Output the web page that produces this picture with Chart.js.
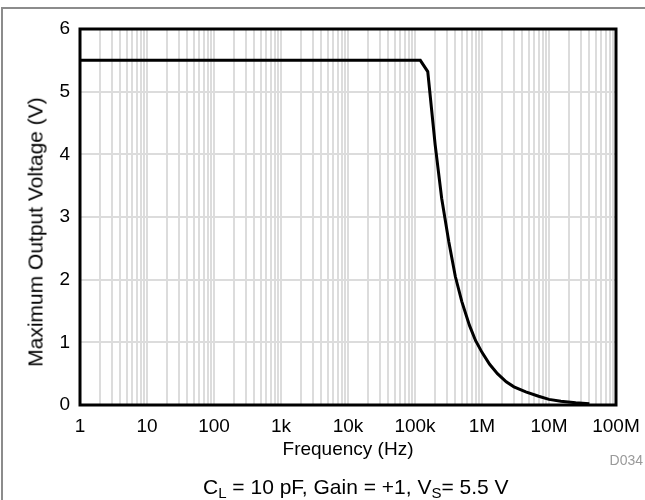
<!DOCTYPE html>
<html>
<head>
<meta charset="utf-8">
<script src="https://cdn.jsdelivr.net/npm/chart.js@4/dist/chart.umd.min.js"></script>
<style>
  html, body { margin: 0; padding: 0; background: #fff; }
  #page { position: relative; width: 645px; height: 500px; overflow: hidden; font-family: "Liberation Sans", Arial, sans-serif; }
  #frame { position: absolute; left: 1px; top: 7px; right: 0; bottom: 0; border-top: 2px solid #8c8c8c; border-left: 2px solid #8c8c8c; }
  #wrap { position: absolute; left: 0; top: 0; width: 645px; height: 500px; }
  #ytitle { position: absolute; left: 35px; top: 232px; transform: translate(-50%, -50%) rotate(-90deg); font-size: 21px; line-height: 21px; color: #000; white-space: nowrap; }
  #note { position: absolute; left: 203px; top: 476px; font-size: 21px; line-height: 21px; color: #000; white-space: nowrap; }
  #note sub { font-size: 15px; vertical-align: -4px; line-height: 0; }
  #code { position: absolute; right: 2px; top: 453px; font-size: 14px; line-height: 14px; color: #9a9a9a; }
</style>
</head>
<body>
<div id="page">
  <div id="frame"></div>
  <div id="wrap"><canvas id="chart"></canvas></div>
  <div id="ytitle">Maximum Output Voltage (V)</div>
  <div id="note">C<sub>L</sub> = 10 pF, Gain = +1, V<sub>S</sub>= 5.5 V</div>
  <div id="code">D034</div>
</div>
<script>
// ---------- DATA ----------
const freqHz = [1, 120000, 155000, 200000, 250000, 320000, 400000, 500000, 650000, 800000,
                1000000, 1300000, 1700000, 2300000, 3000000, 4500000, 7000000, 10000000,
                15000000, 25000000, 40000000];
const voltage = [5.5, 5.5, 5.32, 4.15, 3.3, 2.6, 2.05, 1.65, 1.27, 1.03,
                 0.84, 0.65, 0.5, 0.37, 0.29, 0.21, 0.14, 0.09,
                 0.06, 0.035, 0.02];
const decadeValues = [1, 10, 100, 1e3, 1e4, 1e5, 1e6, 1e7, 1e8];
const decadeLabels = ['1', '10', '100', '1k', '10k', '100k', '1M', '10M', '100M'];
const yTicks = [0, 1, 2, 3, 4, 5, 6];

const FONT = '"Liberation Sans", Arial, sans-serif';

// box around the plot area
const plotBorder = {
    id: 'plotBorder',
    afterDraw(chart) {
        const { ctx, chartArea: a } = chart;
        ctx.save();
        ctx.strokeStyle = '#000';
        ctx.lineWidth = 3;
        ctx.strokeRect(a.left, a.top, a.right - a.left, a.bottom - a.top);
        ctx.restore();
    }
};

new Chart(document.getElementById('chart'), {
    type: 'line',
    data: {
        datasets: [{
            data: freqHz.map((f, i) => ({ x: f, y: voltage[i] })),
            borderColor: '#000',
            borderWidth: 3,
            pointRadius: 0,
            tension: 0,
            fill: false
        }]
    },
    options: {
        responsive: true,
        maintainAspectRatio: false,
        animation: false,
        devicePixelRatio: 1,
        layout: { padding: { top: 29, right: 29, left: 0, bottom: 0 } },
        plugins: { legend: { display: false }, tooltip: { enabled: false } },
        scales: {
            x: {
                type: 'logarithmic',
                min: 1,
                max: 1e8,
                afterBuildTicks: (scale) => {
                    const t = [];
                    for (let d = 0; d < decadeValues.length - 1; d++) {
                        for (let m = 1; m <= 9; m++) t.push({ value: m * decadeValues[d] });
                    }
                    t.push({ value: decadeValues[decadeValues.length - 1] });
                    scale.ticks = t;
                },
                afterFit: (scale) => {
                    scale.height = 95;
                    scale.paddingLeft = 0;
                    scale.paddingRight = 0;
                },
                grid: { color: '#dcdcdc', lineWidth: 2, drawTicks: false },
                border: { display: false },
                ticks: {
                    autoSkip: false,
                    maxRotation: 0,
                    minRotation: 0,
                    padding: 10,
                    color: '#000',
                    font: { family: FONT, size: 19 },
                    callback: (v) => {
                        const i = decadeValues.findIndex(d => Math.abs(d - v) < d * 1e-6);
                        return i >= 0 ? decadeLabels[i] : '';
                    }
                },
                title: {
                    display: true,
                    text: 'Frequency (Hz)',
                    color: '#000',
                    font: { family: FONT, size: 19 },
                    padding: { top: 0, bottom: 39 }
                }
            },
            y: {
                min: 0,
                max: 6,
                afterBuildTicks: (scale) => { scale.ticks = yTicks.map(v => ({ value: v })); },
                afterFit: (scale) => { scale.width = 80; },
                grid: { color: '#dcdcdc', lineWidth: 2, drawTicks: false },
                border: { display: false },
                ticks: {
                    padding: 10,
                    color: '#000',
                    font: { family: FONT, size: 19 }
                }
            }
        }
    },
    plugins: [plotBorder]
});
</script>
</body>
</html>
